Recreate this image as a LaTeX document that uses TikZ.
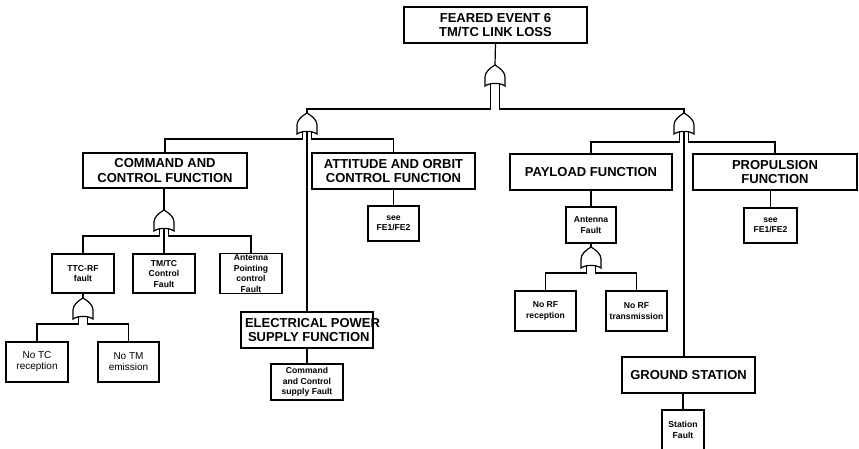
\documentclass[tikz,border=0pt]{standalone}
\usepackage{fontspec}
\setmainfont{Liberation Sans}
\usetikzlibrary{positioning,calc}
\tikzset{
	bigbox/.style={rectangle, draw, line width=1.2pt, align=center, inner sep=2pt,
		font=\bfseries\fontsize{13}{14.5}\selectfont},
	smallbox/.style={rectangle, draw, line width=1.2pt, align=center, inner sep=1pt,
		font=\bfseries\fontsize{8.6}{10.5}\selectfont},
	plainbox/.style={smallbox, font=\fontsize{10}{11}\selectfont},
	link/.style={line width=1.2pt},
	pics/orgate/.style={code={
		\draw[line width=1.2pt] (0,0) .. controls (5,3) and (10,7) .. (10,12) -- (10,21)
			.. controls (5,17.5) and (-5,17.5) .. (-10,21) -- (-10,12)
			.. controls (-10,7) and (-5,3) .. (0,0) -- cycle;
		\coordinate (-out) at (0,0);
		\coordinate (-l) at (-4.5,18.8);
		\coordinate (-r) at (4.5,18.8);
		\coordinate (-c) at (0,18.4);
	}}
}
\begin{document}
\begin{tikzpicture}[x=1pt, y=-1pt]
			\path[use as bounding box, fill=white] (0,0) rectangle (859,449);
			\node[bigbox, minimum width=183pt, minimum height=36pt] (fe6) at (495.5,25) {FEARED EVENT 6\\TM/TC LINK LOSS};
			\node[bigbox, minimum width=164pt, minimum height=35pt] (cmd) at (165,170.5) {COMMAND AND\\CONTROL FUNCTION};
			\node[bigbox, minimum width=163pt, minimum height=36pt] (aocs) at (393.5,171) {ATTITUDE AND ORBIT\\CONTROL FUNCTION};
			\node[bigbox, minimum width=162pt, minimum height=36pt] (pay) at (591,172) {PAYLOAD FUNCTION};
			\node[bigbox, minimum width=164pt, minimum height=36pt] (prop) at (775,172) {PROPULSION\\FUNCTION};
			\node[bigbox, minimum width=132pt, minimum height=36pt] (eps) at (307,330) {\makebox[124pt][l]{ELECTRICAL POWER}\\\makebox[124pt][l]{\hspace{3pt}SUPPLY FUNCTION}};
			\node[bigbox, minimum width=133pt, minimum height=36pt] (gs) at (688.5,375) {GROUND STATION};
			\node[smallbox, minimum width=62pt, minimum height=39pt] (ttc) at (83,273.5) {TTC-RF\\fault};
			\node[smallbox, minimum width=62pt, minimum height=39pt] (tmtc) at (164,273.5) {TM/TC\\Control\\Fault};
			\node[smallbox, minimum width=62pt, minimum height=39pt] (pnt) at (251,273.5) {Antenna\\Pointing\\control\\Fault};
			\node[plainbox, minimum width=62pt, minimum height=40pt] (notc) at (37,362) {No TC\\reception};
			\node[plainbox, minimum width=61pt, minimum height=40pt] (notm) at (128.5,362) {No TM\\emission};
			\node[smallbox, minimum width=51pt, minimum height=35pt] (seel) at (393.5,223.5) {see\\FE1/FE2};
			\node[smallbox, minimum width=72pt, minimum height=36pt] (ccsf) at (307,382) {Command\\and Control\\supply Fault};
			\node[smallbox, minimum width=53pt, minimum height=35pt] (seer) at (770.5,225.5) {see\\FE1/FE2};
			\node[smallbox, minimum width=50pt, minimum height=36pt] (antf) at (591,225) {Antenna\\Fault};
			\node[smallbox, minimum width=61pt, minimum height=40pt] (norx) at (545.5,311) {No RF\\reception};
			\node[smallbox, minimum width=61pt, minimum height=40pt] (notx) at (636.5,311) {No RF\\transmission};
			\node[smallbox, minimum width=42pt, minimum height=40pt] (stf) at (683,430) {Station\\Fault};
			\pic (g0) at (495,65) {orgate};
			\pic (g1) at (307,113) {orgate};
			\pic (g2) at (684,113) {orgate};
			\pic (g3) at (164,210) {orgate};
			\pic (g4) at (83,298) {orgate};
			\pic (g5) at (591,247) {orgate};
			\coordinate (bar0) at (495,109);
			\coordinate (bar1) at (307,139);
			\coordinate (bar2) at (684,142);
			\coordinate (bar3) at (164,236);
			\coordinate (bar4) at (83,324);
			\coordinate (bar5) at (591,273);
			\draw[link] (fe6.south) -- (g0-out);
			\draw[link] (g1-out) |- (g0-l |- bar0) -- (g0-l);
			\draw[link] (g2-out) |- (g0-r |- bar0) -- (g0-r);
			\draw[link] (cmd.north) |- (g1-l |- bar1) -- (g1-l);
			\draw[link] (aocs.north) |- (g1-r |- bar1) -- (g1-r);
			\draw[link] (g1-c) -- (eps.north);
			\draw[link] (pay.north) |- (g2-l |- bar2) -- (g2-l);
			\draw[link] (prop.north) |- (g2-r |- bar2) -- (g2-r);
			\draw[link] (g2-c) -- (g2-c |- gs.north);
			\draw[link] (g3-out |- cmd.south) -- (g3-out);
			\draw[link] (ttc.north) |- (g3-l |- bar3) -- (g3-l);
			\draw[link] (pnt.north) |- (g3-r |- bar3) -- (g3-r);
			\draw[link] (g3-c) -- (tmtc.north);
			\draw[link] (ttc.south) -- (g4-out);
			\draw[link] (notc.north) |- (g4-l |- bar4) -- (g4-l);
			\draw[link] (notm.north) |- (g4-r |- bar4) -- (g4-r);
			\draw[link] (antf.south) -- (g5-out);
			\draw[link] (norx.north) |- (g5-l |- bar5) -- (g5-l);
			\draw[link] (notx.north) |- (g5-r |- bar5) -- (g5-r);
			\draw[link] (aocs.south) -- (seel.north);
			\draw[link] (pay.south) -- (antf.north);
			\draw[link] (seer.north) -- (seer.north |- prop.south);
			\draw[link] (eps.south) -- (ccsf.north);
			\draw[link] (stf.north) -- (stf.north |- gs.south);
		\end{tikzpicture}
\end{document}
